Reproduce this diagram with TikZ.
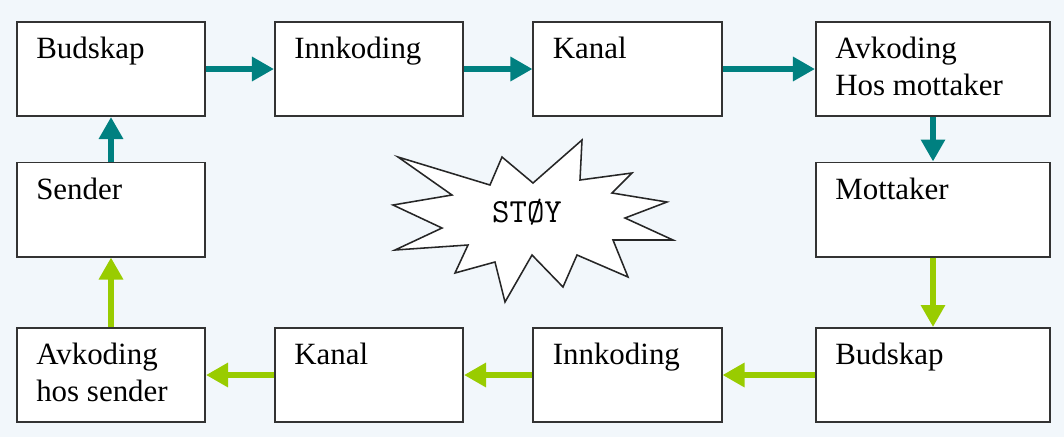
\documentclass[tikz,border=0pt]{standalone}
\usepackage{fontspec}
\setmainfont{Liberation Serif}
\usetikzlibrary{arrows.meta}
\definecolor{bakgrunn}{RGB}{242,247,251}
\definecolor{blagronn}{RGB}{0,128,128}
\definecolor{gulgronn}{RGB}{153,204,0}

\begin{document}
\begin{tikzpicture}[x=0.025cm, y=-0.025cm,
    box/.style={draw=black!80, line width=1.4pt, fill=white, inner sep=0pt,
        minimum width=4.7cm, minimum height=2.35cm,
        label={[txt]north west:#1}},
    bred/.style={minimum width=5.85cm},
    txt/.style={anchor=north west, inner sep=0pt, xshift=0.5cm, yshift=-0.4cm,
        align=left, font=\fontsize{22}{26}\selectfont},
    tilbake/.style={line width=4.3pt, blagronn, -{Triangle[length=0.55cm, width=0.58cm]}},
    retur/.style={line width=4.3pt, gulgronn, -{Triangle[length=0.55cm, width=0.58cm]}}]

    % bakgrunn
    \fill[bakgrunn] (0,0) rectangle (1064,437);
    \useasboundingbox (0,0) rectangle (1064,437);

    % 1. Øverste rad
    \node[box=Budskap] (bud1) at (111,69) {};
    \node[box=Innkoding] (inn1) at (369,69) {};
    \node[box=Kanal] (kan1) at (627.5,69) {};
    \node[box={Avkoding\\Hos mottaker}, bred] (avk1) at (933,69) {};

    % 2. Midtre rad
    \node[box=Sender] (sender) at (111,209.5) {};
    \node[box=Mottaker, bred] (mottaker) at (933,209.5) {};

    % 3. Nederste rad
    \node[box=Budskap, bred] (bud2) at (933,375) {};
    \node[box=Innkoding] (inn2) at (627.5,375) {};
    \node[box=Kanal] (kan2) at (369,375) {};
    \node[box={Avkoding\\hos sender}] (avk2) at (111,375) {};

    % Støy-stjerne
    \draw[black!85, line width=1.1pt, fill=white]
        (398,157) -- (490,185) -- (502,157) -- (533,183) -- (582,140) -- (580,180)
        -- (632,173) -- (612,193) -- (667,202) -- (625,218) -- (673,240) -- (613,240)
        -- (628,277) -- (577,255) -- (563,287) -- (532,255) -- (505,302) -- (495,262)
        -- (455,273) -- (468,245) -- (395,250) -- (442,228) -- (393,205) -- (452,195)
        -- cycle;
    \node[font=\ttfamily\fontsize{24}{28}\selectfont] (stoy) at (527,212) {STØY};

    % Piler
    \draw[tilbake] (bud1) -- (inn1);
    \draw[tilbake] (inn1) -- (kan1);
    \draw[tilbake] (kan1) -- (avk1);
    \draw[tilbake] (avk1) -- (mottaker);
    \draw[tilbake] (sender) -- (bud1);
    \draw[retur] (mottaker) -- (bud2);
    \draw[retur] (bud2) -- (inn2);
    \draw[retur] (inn2) -- (kan2);
    \draw[retur] (kan2) -- (avk2);
    \draw[retur] (avk2) -- (sender);

\end{tikzpicture}
\end{document}
